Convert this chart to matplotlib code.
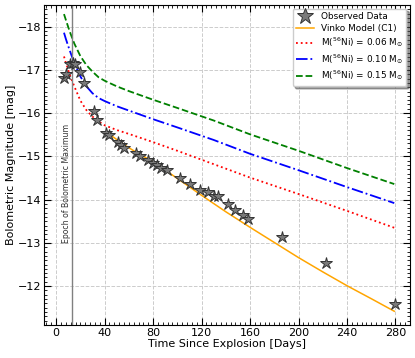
import matplotlib
matplotlib.use('Agg')
from matplotlib import pyplot as plt
from matplotlib.ticker import MultipleLocator, AutoMinorLocator

# observed bolometric light curve
t_obs = [6.6, 8.0, 11.6, 13.8, 15.7, 19.3, 22.6, 30.9, 33.6, 41.2, 43.7, 51.3,
         53.8, 56.3, 66.2, 69.5, 75.8, 80.0, 83.3, 86.9, 91.9, 102.0, 110.3,
         119.0, 125.5, 130.3, 133.8, 142.0, 147.6, 154.5, 158.0, 186.3, 222.7, 280.0]
mag_obs = [-16.81, -16.90, -17.14, -17.17, -17.14, -16.96, -16.69, -16.04, -15.85,
           -15.55, -15.50, -15.34, -15.27, -15.20, -15.08, -15.02, -14.92, -14.85,
           -14.79, -14.73, -14.68, -14.50, -14.37, -14.22, -14.17, -14.09, -14.08,
           -13.89, -13.75, -13.65, -13.56, -13.13, -12.54, -11.59]

# Vinko model fit
t_vinko = [42.5, 50, 60, 70, 80, 100, 120, 140, 160, 180, 200, 220, 240, 260, 279]
mag_vinko = [-15.54, -15.39, -15.20, -15.03, -14.88, -14.49, -14.10, -13.72, -13.36,
             -13.01, -12.66, -12.33, -12.01, -11.71, -11.42]

# Ni-Co decay curves
t_ni = [6.5, 8, 10, 12, 15, 20, 25, 30, 35, 40, 50, 60, 80, 100, 130, 160, 200, 240, 279]
mag_ni006 = [-17.31, -17.17, -17.00, -16.83, -16.62, -16.29, -16.07, -15.92, -15.81,
             -15.72, -15.61, -15.52, -15.33, -15.13, -14.82, -14.51, -14.13, -13.74, -13.35]
mag_ni010 = [-17.86, -17.72, -17.55, -17.39, -17.16, -16.85, -16.62, -16.46, -16.35,
             -16.28, -16.16, -16.06, -15.86, -15.67, -15.38, -15.06, -14.68, -14.29, -13.92]
mag_ni015 = [-18.29, -18.16, -17.99, -17.83, -17.61, -17.32, -17.11, -16.96, -16.83,
             -16.75, -16.62, -16.51, -16.31, -16.12, -15.83, -15.51, -15.13, -14.73, -14.36]

t_peak = 13

fig, ax = plt.subplots(figsize=(4.15, 3.58), dpi=100)
fig.subplots_adjust(left=0.106, right=0.988, top=0.986, bottom=0.092)

ax.plot(t_obs, mag_obs, '*', color='#7a7a7a', markeredgecolor='#333333',
        markeredgewidth=0.7, markersize=9, label='Observed Data', zorder=4)
ax.plot(t_vinko, mag_vinko, '-', color='orange', lw=1.1, label='Vinko Model (C1)', zorder=3)
ax.plot(t_ni, mag_ni006, ':', color='red', lw=1.3, label=r'M($^{56}$Ni) = 0.06 M$_{\odot}$')
ax.plot(t_ni, mag_ni010, '-.', color='blue', lw=1.3, label=r'M($^{56}$Ni) = 0.10 M$_{\odot}$')
ax.plot(t_ni, mag_ni015, '--', color='green', lw=1.3, label=r'M($^{56}$Ni) = 0.15 M$_{\odot}$')

ax.axvline(t_peak, color='gray', lw=1)
ax.text(t_peak - 0.8, -13.0, 'Epoch of Bolometric Maximum', rotation=90,
        fontsize=5.6, color='#333333', ha='right', va='bottom')

ax.set_xlim(-10, 292)
ax.set_ylim(-11.1, -18.5)
ax.xaxis.set_major_locator(MultipleLocator(40))
ax.xaxis.set_minor_locator(AutoMinorLocator(10))
ax.yaxis.set_major_locator(MultipleLocator(1))
ax.yaxis.set_minor_locator(AutoMinorLocator(10))
ax.tick_params(which='both', direction='in', top=True, right=True, labelsize=8, pad=2)
ax.tick_params(which='major', length=5)
ax.tick_params(which='minor', length=2.5)
ax.grid(True, ls='--', color='#cccccc', lw=0.7)

ax.set_xlabel('Time Since Explosion [Days]', fontsize=8, labelpad=1)
ax.set_ylabel('Bolometric Magnitude [mag]', fontsize=8, labelpad=1)
ax.legend(loc='upper right', fontsize=6.4, shadow=True, fancybox=True, markerscale=1.3,
          labelspacing=0.3, borderaxespad=0.4)

plt.savefig('out.png')
